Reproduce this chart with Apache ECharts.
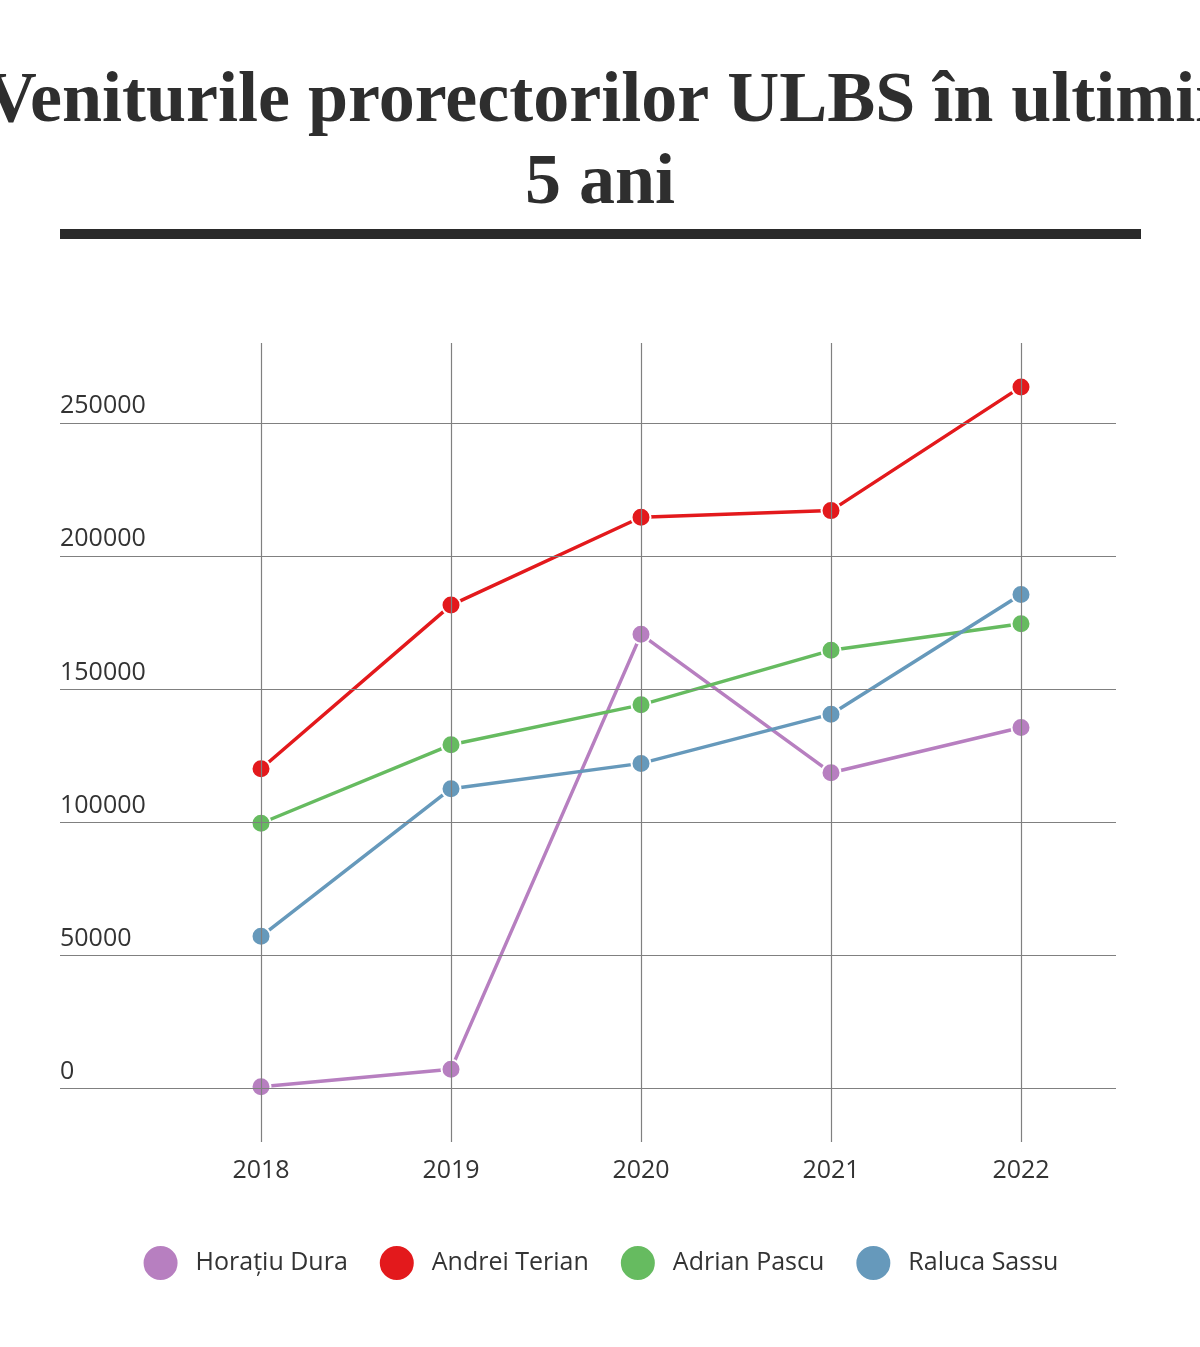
<!DOCTYPE html>
<html lang="ro">
<head>
<meta charset="UTF-8">
<title>Veniturile prorectorilor ULBS</title>
<script src="https://cdn.jsdelivr.net/npm/echarts@6/dist/echarts.min.js"></script>
<style>
  html, body { margin: 0; padding: 0; background: #fff; }
  #main { width: 1200px; height: 1347px; }
</style>
</head>
<body>
<div id="main"></div>
<script>
// data
var years = [2018, 2019, 2020, 2021, 2022];
var yTicks = [0, 50000, 100000, 150000, 200000, 250000];
var names = ['Horațiu Dura', 'Andrei Terian', 'Adrian Pascu', 'Raluca Sassu'];
var colors = ['#b77fc0', '#e3191c', '#66bb60', '#6699bb'];
var dura = [500, 7000, 170500, 118500, 135500];
var terian = [120000, 181500, 214500, 217000, 263500];
var pascu = [99500, 129000, 144000, 164500, 174500];
var sassu = [57000, 112500, 122000, 140500, 185500];
var values = [dura, terian, pascu, sassu];

var myChart = echarts.init(document.getElementById('main'));

var gridLineStyle = {color: '#808080', width: 1.2, type: 'solid'};
var gridLines = [];
yTicks.forEach(function (v) { gridLines.push({yAxis: v}); });
years.forEach(function (v) { gridLines.push({xAxis: v}); });

var series = [{
    type: 'line',
    data: [],
    silent: true,
    z: 1,
    markLine: {
        silent: true,
        symbol: 'none',
        label: {show: false},
        lineStyle: gridLineStyle,
        animation: false,
        data: gridLines
    }
}];
names.forEach(function (n, i) {
    series.push({
        name: n,
        type: 'line',
        z: 3,
        data: years.map(function (y, j) { return [y, values[i][j]]; }),
        symbol: 'circle',
        symbolSize: 19,
        lineStyle: {width: 3.5, color: colors[i]},
        itemStyle: {color: colors[i], borderColor: '#fff', borderWidth: 2}
    });
});

option = {
    animation: false,
    backgroundColor: '#fff',
    title: {
        text: 'Veniturile prorectorilor ULBS în ultimii\n5 ani',
        left: 'center',
        top: 56,
        textStyle: {
            fontFamily: 'Liberation Sans Narrow',
            fontWeight: 'bold',
            fontSize: 72,
            lineHeight: 82,
            color: '#2e2e2e'
        }
    },
    graphic: [{
        type: 'rect',
        shape: {x: 60, y: 229, width: 1081, height: 10},
        style: {fill: '#2a2a2a'}
    }],
    grid: {left: 60, right: 84, top: 343, bottom: 205},
    legend: {
        data: names,
        bottom: 60,
        left: 'center',
        icon: 'circle',
        itemWidth: 36,
        itemHeight: 36,
        itemGap: 30,
        textStyle: {fontFamily: 'Open Sans', fontSize: 25, color: '#333', padding: [0, 0, 0, 12]}
    },
    xAxis: {
        type: 'value',
        min: 2016.942,
        max: 2022.5,
        axisLine: {show: false},
        axisTick: {show: false},
        splitLine: {show: false},
        axisLabel: {
            customValues: years,
            margin: 16,
            fontFamily: 'Open Sans',
            fontSize: 25,
            color: '#333',
            formatter: function (v) { return String(v); }
        }
    },
    yAxis: {
        type: 'value',
        min: -20300,
        max: 280000,
        axisLine: {show: false},
        axisTick: {show: false},
        splitLine: {show: false},
        axisLabel: {
            customValues: yTicks,
            inside: true,
            margin: 0,
            verticalAlign: 'bottom',
            padding: [0, 0, 4, 0],
            fontFamily: 'Open Sans',
            fontSize: 25,
            color: '#333',
            formatter: function (v) { return String(v); }
        }
    },
    series: series
};

myChart.setOption(option);
</script>
</body>
</html>
